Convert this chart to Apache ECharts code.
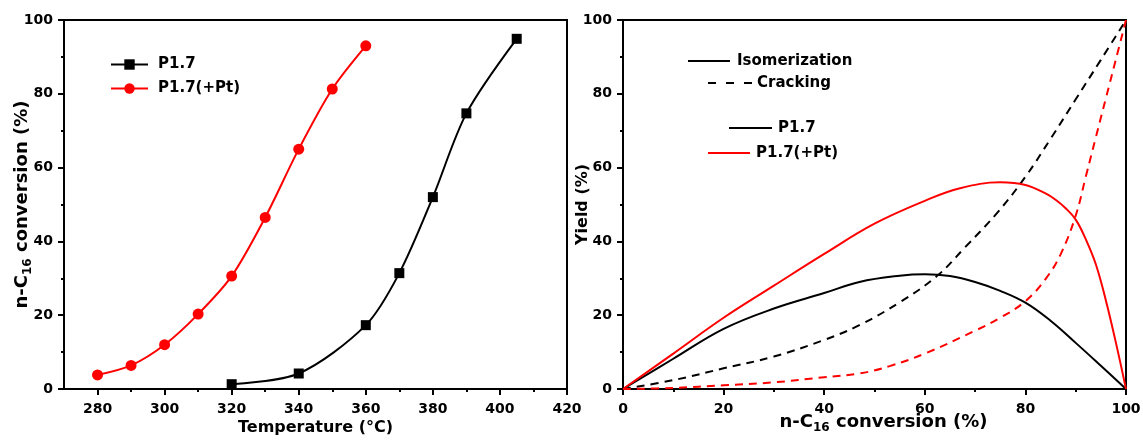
<!DOCTYPE html>
<html>
<head>
<meta charset="utf-8">
<script src="https://cdn.jsdelivr.net/npm/echarts@6/dist/echarts.min.js"></script>
<style>
  html, body { margin: 0; padding: 0; background: #fff; }
  #chart { width: 1143px; height: 440px; }
</style>
</head>
<body>
<div id="chart"></div>
<script>
// Left panel: n-C16 conversion vs. reaction temperature
const tempP17 = [320, 340, 360, 370, 380, 390, 405];
const convP17 = [1.3, 4.2, 17.3, 31.4, 52.0, 74.7, 94.9];
const tempPt = [280, 290, 300, 310, 320, 330, 340, 350, 360];
const convPt = [3.8, 6.4, 12.0, 20.3, 30.6, 46.5, 65.0, 81.3, 93.0];
const tempMajorTicks = [280, 300, 320, 340, 360, 380, 400, 420];
const tempMinorTicks = [290, 310, 330, 350, 370, 390, 410];

// Right panel: yields vs. n-C16 conversion, [conversion, yield]
const isoP17 = [[0,0],[10,8.2],[20,16.3],[30,21.8],[40,26.0],[47,29.0],[55,30.7],[60,31.1],[65,30.6],[70,29.0],[75,26.6],[80,23.4],[85,18.5],[90,12.5],[95,6.3],[100,0]];
const crackP17 = [[0,0],[10,2.4],[20,5.6],[30,8.8],[40,13.3],[47,17.3],[55,23.5],[62.4,30.6],[68,38.4],[74.3,47.6],[80,57.5],[85,67.8],[90,78.5],[95,89.2],[100,100]];
const isoPt = [[0,0],[10,9.6],[20,19.3],[30,28.0],[40,36.6],[50,44.8],[60,51.0],[67,54.4],[75,56.0],[80,55.3],[84,53.0],[86,51.3],[88,49.0],[90,45.9],[92,40.6],[94,33.8],[96,24.0],[98,12.5],[100,0]];
const crackPt = [[0,0],[10,0.3],[20,1.0],[30,1.8],[40,3.2],[47,4.2],[53,6.2],[60,9.6],[70,15.8],[75,19.3],[80,23.8],[84,29.8],[87,36.5],[90,47.0],[92,57.5],[94,68.2],[96,78.8],[98,89.4],[100,100]];

const FONT = 'DejaVu Sans';
const black = '#000000';
const red = '#ff0000';

const chart = echarts.init(document.getElementById('chart'), null, { renderer: 'canvas' });

const labelStyle = { color: black, fontFamily: FONT, fontWeight: 'bold', fontSize: 14 };
const nameRich = {
  t: { fontFamily: FONT, fontWeight: 'bold', fontSize: 18, color: black, lineHeight: 24 },
  s: { fontFamily: FONT, fontWeight: 'bold', fontSize: 12, color: black, lineHeight: 12, verticalAlign: 'bottom' }
};
const convName = '{t|n-C}{s|16}{t| conversion (%)}';

function valueAxis(extra) {
  return Object.assign({
    type: 'value',
    nameMoveOverlap: false,
    axisLine: { show: true, onZero: false, lineStyle: { color: black, width: 2 } },
    axisTick: { show: true, length: 6, lineStyle: { color: black, width: 2 } },
    minorTick: { show: true, splitNumber: 2, length: 3, lineStyle: { color: black, width: 2 } },
    axisLabel: Object.assign({ margin: 11 }, labelStyle),
    splitLine: { show: false },
    minorSplitLine: { show: false }
  }, extra);
}

const option = {
  backgroundColor: '#ffffff',
  animation: false,
  grid: [
    { left: 64, top: 20, right: 576, bottom: 51, outerBoundsMode: 'none', containLabel: false,
      show: true, borderColor: black, borderWidth: 2, backgroundColor: 'transparent' },
    { left: 623, top: 20, right: 17, bottom: 51, outerBoundsMode: 'none', containLabel: false,
      show: true, borderColor: black, borderWidth: 2, backgroundColor: 'transparent' }
  ],
  legend: {
    left: 110, top: 57, orient: 'vertical', itemGap: 9, padding: 0,
    itemWidth: 37, itemHeight: 13,
    data: ['P1.7', 'P1.7(+Pt)'],
    textStyle: { color: black, fontFamily: FONT, fontWeight: 'bold', fontSize: 15, padding: [0, 0, 0, 5] }
  },
  xAxis: [
    {
      gridIndex: 0, type: 'value', min: 270, max: 420, nameMoveOverlap: false,
      axisLine: { show: true, onZero: false, lineStyle: { color: black, width: 2 } },
      axisTick: { show: true, customValues: tempMajorTicks, length: 6, lineStyle: { color: black, width: 2 } },
      axisLabel: Object.assign({ customValues: tempMajorTicks, margin: 13 }, labelStyle),
      splitLine: { show: false },
      name: 'Temperature (°C)', nameLocation: 'middle', nameGap: 31,
      nameTextStyle: { color: black, fontFamily: FONT, fontWeight: 'bold', fontSize: 16 }
    },
    {
      gridIndex: 0, type: 'value', min: 270, max: 420, position: 'bottom',
      axisLine: { show: false },
      axisTick: { show: true, customValues: tempMinorTicks, length: 3, lineStyle: { color: black, width: 2 } },
      axisLabel: { show: false },
      splitLine: { show: false }
    },
    valueAxis({
      gridIndex: 1, min: 0, max: 100, interval: 20,
      axisLabel: Object.assign({ margin: 13 }, labelStyle),
      name: convName, nameLocation: 'middle', nameGap: 21,
      nameTextStyle: { rich: nameRich, padding: [0, 0, 0, 18] }
    })
  ],
  yAxis: [
    valueAxis({
      gridIndex: 0, min: 0, max: 100, interval: 20,
      name: convName, nameLocation: 'middle', nameGap: 30,
      nameTextStyle: { rich: nameRich }
    }),
    valueAxis({
      gridIndex: 1, min: 0, max: 100, interval: 20,
      name: 'Yield (%)', nameLocation: 'middle', nameGap: 32,
      nameTextStyle: { color: black, fontFamily: FONT, fontWeight: 'bold', fontSize: 16 }
    })
  ],
  series: [
    {
      name: 'P1.7', type: 'line', xAxisIndex: 0, yAxisIndex: 0,
      data: tempP17.map((t, i) => [t, convP17[i]]),
      smooth: 0.3, symbol: 'rect', symbolSize: 10,
      lineStyle: { color: black, width: 2 }, itemStyle: { color: black }
    },
    {
      name: 'P1.7(+Pt)', type: 'line', xAxisIndex: 0, yAxisIndex: 0,
      data: tempPt.map((t, i) => [t, convPt[i]]),
      smooth: 0.3, symbol: 'circle', symbolSize: 11,
      lineStyle: { color: red, width: 2 }, itemStyle: { color: red }
    },
    {
      name: 'P1.7 isomerization', type: 'line', xAxisIndex: 2, yAxisIndex: 1,
      data: isoP17, smooth: 0.4, showSymbol: false,
      lineStyle: { color: black, width: 2 }
    },
    {
      name: 'P1.7 cracking', type: 'line', xAxisIndex: 2, yAxisIndex: 1,
      data: crackP17, smooth: 0.4, showSymbol: false,
      lineStyle: { color: black, width: 2, type: [8, 6] }
    },
    {
      name: 'P1.7(+Pt) isomerization', type: 'line', xAxisIndex: 2, yAxisIndex: 1,
      data: isoPt, smooth: 0.4, showSymbol: false,
      lineStyle: { color: red, width: 2 }
    },
    {
      name: 'P1.7(+Pt) cracking', type: 'line', xAxisIndex: 2, yAxisIndex: 1,
      data: crackPt, smooth: 0.4, showSymbol: false,
      lineStyle: { color: red, width: 2, type: [8, 6] }
    }
  ],
  graphic: [
    // key for the right panel: line styles, then catalysts
    { type: 'line', shape: { x1: 688, y1: 61, x2: 730, y2: 61 }, style: { stroke: black, lineWidth: 2 } },
    { type: 'text', style: { x: 737, y: 61, text: 'Isomerization', fill: black, font: 'bold 15px "DejaVu Sans"', verticalAlign: 'middle' } },
    { type: 'line', shape: { x1: 708, y1: 83, x2: 752, y2: 83 }, style: { stroke: black, lineWidth: 2, lineDash: [8, 10] } },
    { type: 'text', style: { x: 757, y: 83, text: 'Cracking', fill: black, font: 'bold 15px "DejaVu Sans"', verticalAlign: 'middle' } },
    { type: 'line', shape: { x1: 729, y1: 128, x2: 772, y2: 128 }, style: { stroke: black, lineWidth: 2 } },
    { type: 'text', style: { x: 778, y: 128, text: 'P1.7', fill: black, font: 'bold 15px "DejaVu Sans"', verticalAlign: 'middle' } },
    { type: 'line', shape: { x1: 708, y1: 153, x2: 750, y2: 153 }, style: { stroke: red, lineWidth: 2 } },
    { type: 'text', style: { x: 756, y: 153, text: 'P1.7(+Pt)', fill: black, font: 'bold 15px "DejaVu Sans"', verticalAlign: 'middle' } }
  ]
};

chart.setOption(option);
</script>
</body>
</html>
